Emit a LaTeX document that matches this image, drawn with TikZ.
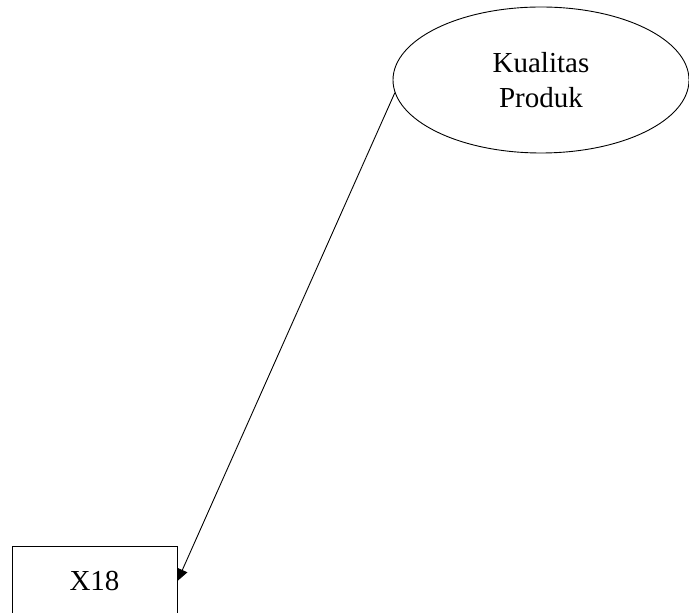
\documentclass[tikz,border=0pt]{standalone}
\usepackage{fontspec}
\setmainfont{Liberation Serif}
\usetikzlibrary{arrows.meta,shapes.geometric}

\begin{document}
\begin{tikzpicture}[
    x=1pt, y=1pt,
    latent/.style={draw, ellipse, line width=0.9pt, minimum width=296pt, minimum height=146pt, align=center, font=\fontsize{29}{35}\selectfont},
    item/.style={draw, rectangle, line width=0.9pt, minimum width=165pt, minimum height=70pt, font=\fontsize{29}{35}\selectfont},
    arr/.style={-{Triangle[length=12pt,width=11pt]}, line width=0.9pt}
  ]
    \useasboundingbox (0,0) rectangle (689,613);
    \node[latent] (kualitas) at (541,533) {Kualitas\\Produk};
    \node[item] (x18) at (94.5,32) {X18};
    \draw[arr] (kualitas.185) -- (x18.east);
  \end{tikzpicture}
\end{document}
